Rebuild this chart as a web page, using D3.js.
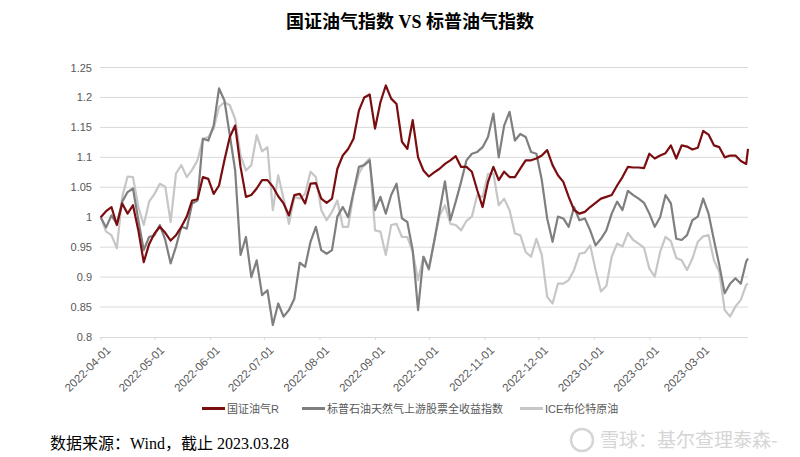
<!DOCTYPE html>
<html><head><meta charset="utf-8">
<script src="https://cdn.jsdelivr.net/npm/d3@7"></script>
<style>
html,body{margin:0;padding:0;background:#fff;}
svg{display:block;}
</style>
</head><body>
<svg id="chart" width="800" height="457"></svg>
<script>
const dates = [
"2022-04-01","2022-04-04","2022-04-07","2022-04-10","2022-04-13","2022-04-16","2022-04-19","2022-04-22","2022-04-25","2022-04-28",
"2022-05-01","2022-05-04","2022-05-07","2022-05-10","2022-05-13","2022-05-16","2022-05-19","2022-05-22","2022-05-25","2022-05-28","2022-05-31",
"2022-06-03","2022-06-06","2022-06-09","2022-06-12","2022-06-15","2022-06-18","2022-06-21","2022-06-24","2022-06-27","2022-06-30",
"2022-07-03","2022-07-06","2022-07-09","2022-07-12","2022-07-15","2022-07-18","2022-07-21","2022-07-24","2022-07-27","2022-07-30",
"2022-08-02","2022-08-05","2022-08-08","2022-08-11","2022-08-14","2022-08-17","2022-08-20","2022-08-23","2022-08-26","2022-08-29",
"2022-09-01","2022-09-04","2022-09-07","2022-09-10","2022-09-13","2022-09-16","2022-09-19","2022-09-22","2022-09-25","2022-09-28",
"2022-10-01","2022-10-04","2022-10-07","2022-10-10","2022-10-13","2022-10-16","2022-10-19","2022-10-22","2022-10-25","2022-10-28","2022-10-31",
"2022-11-03","2022-11-06","2022-11-09","2022-11-12","2022-11-15","2022-11-18","2022-11-21","2022-11-24","2022-11-27","2022-11-30",
"2022-12-03","2022-12-06","2022-12-09","2022-12-12","2022-12-15","2022-12-18","2022-12-21","2022-12-24","2022-12-27","2022-12-30",
"2023-01-02","2023-01-05","2023-01-08","2023-01-11","2023-01-14","2023-01-17","2023-01-20","2023-01-23","2023-01-26","2023-01-29",
"2023-02-01","2023-02-04","2023-02-07","2023-02-10","2023-02-13","2023-02-16","2023-02-19","2023-02-22","2023-02-25","2023-02-28",
"2023-03-03","2023-03-06","2023-03-09","2023-03-12","2023-03-15","2023-03-18","2023-03-21","2023-03-24","2023-03-27","2023-03-28"
];

const seriesNames = ["国证油气R", "标普石油天然气上游股票全收益指数", "ICE布伦特原油"];

const cnOilGas = [
1.000,1.010,1.017,0.987,1.023,1.006,1.020,0.978,0.925,0.955,0.973,0.984,0.974,0.961,0.970,0.984,1.001,1.028,1.030,1.067,1.064,1.039,1.053,1.095,1.134,1.153,1.084,1.034,1.037,1.048,1.062,1.062,
1.051,1.035,1.023,1.003,1.037,1.039,1.023,1.056,1.057,1.031,1.024,1.031,1.081,1.103,1.114,1.131,1.178,1.200,1.205,1.148,1.192,1.220,1.198,1.189,1.126,1.114,1.162,1.100,1.078,1.068,1.075,1.081,
1.089,1.095,1.102,1.084,1.084,1.076,1.045,1.017,1.059,1.084,1.062,1.076,1.067,1.067,1.081,1.095,1.095,1.098,1.103,1.112,1.087,1.070,1.059,1.034,1.012,1.006,1.009,1.017,1.024,1.031,1.034,
1.037,1.053,1.067,1.084,1.083,1.083,1.082,1.106,1.098,1.103,1.107,1.120,1.098,1.120,1.118,1.113,1.116,1.144,1.138,1.120,1.117,1.100,1.103,1.103,1.094,1.089,1.114
];

const spUpstream = [
1.000,0.983,1.003,0.989,1.026,1.042,1.048,0.995,0.945,0.967,0.970,0.987,0.962,0.923,0.951,0.984,0.981,1.023,1.028,1.131,1.128,1.153,1.215,1.195,1.137,1.078,0.937,0.967,0.900,0.928,0.870,0.878,
0.820,0.856,0.834,0.845,0.864,0.924,0.917,0.959,0.984,0.945,0.939,0.945,1.001,1.017,1.000,1.042,1.084,1.087,1.095,1.012,1.034,1.006,1.037,1.056,0.998,0.992,0.945,0.845,0.934,0.914,0.960,1.010,
1.060,0.995,1.026,1.059,1.095,1.106,1.109,1.117,1.134,1.173,1.100,1.153,1.176,1.128,1.139,1.134,1.109,1.106,1.062,0.998,0.959,1.001,0.998,0.984,1.017,0.995,0.998,0.978,0.953,0.964,0.978,
1.006,1.026,1.012,1.044,1.037,1.031,1.024,1.006,0.984,1.000,1.037,1.023,0.964,0.962,0.970,0.995,1.001,1.031,1.006,0.962,0.920,0.873,0.889,0.898,0.889,0.926,0.931
];

const brent = [
1.000,0.976,0.970,0.948,1.034,1.068,1.067,1.017,0.987,1.026,1.039,1.056,1.051,0.992,1.073,1.087,1.067,1.079,1.095,1.131,1.134,1.148,1.184,1.192,1.187,1.164,1.103,1.078,1.087,1.137,1.110,1.117,
1.012,1.070,1.031,0.989,1.034,1.031,1.039,1.076,1.067,1.012,0.995,1.009,1.028,0.984,0.984,1.039,1.073,1.089,1.098,0.978,0.976,0.937,0.987,0.989,0.967,0.967,0.942,0.895,0.934,0.912,0.960,1.003,
1.020,0.989,0.987,0.978,0.994,1.001,1.037,1.034,1.072,1.073,1.020,1.031,1.012,0.973,0.970,0.942,0.934,0.964,0.937,0.867,0.856,0.889,0.889,0.895,0.912,0.939,0.941,0.953,0.912,0.876,0.885,
0.934,0.956,0.951,0.974,0.962,0.956,0.949,0.914,0.901,0.942,0.967,0.960,0.932,0.928,0.912,0.931,0.959,0.968,0.970,0.928,0.909,0.845,0.834,0.851,0.862,0.887,0.889
];

const xTickLabels = ["2022-04-01","2022-05-01","2022-06-01","2022-07-01","2022-08-01","2022-09-01","2022-10-01","2022-11-01","2022-12-01","2023-01-01","2023-02-01","2023-03-01"];
const yTickValues = [0.8,0.85,0.9,0.95,1,1.05,1.1,1.15,1.2,1.25];
const yTickLabels = ["0.8","0.85","0.9","0.95","1","1.05","1.1","1.15","1.2","1.25"];

const titleText = "国证油气指数 VS 标普油气指数";
const sourceText = "数据来源：Wind，截止 2023.03.28";
const watermarkText = "雪球：基尔查理泰森-";

const colors = ["#7a0d10", "#7f7f7f", "#c6c6c6"];

const parse = d3.utcParse("%Y-%m-%d");
const svg = d3.select("#chart");
const sansFont = "'Liberation Sans', Arial, 'Noto Sans CJK SC', sans-serif";
const serifFont = "'Liberation Serif', 'Times New Roman', 'Noto Sans CJK SC', serif";

const x = d3.scaleUtc()
  .domain([parse("2022-04-01"), parse("2023-03-28")])
  .range([100.7, 748]);
const y = d3.scaleLinear().domain([0.8, 1.25]).range([337, 67.5]);

// gridlines
svg.append("g").selectAll("line").data(yTickValues.slice(1)).join("line")
  .attr("x1", 100).attr("x2", 748)
  .attr("y1", d => y(d)).attr("y2", d => y(d))
  .attr("stroke", "#d9d9d9").attr("stroke-width", 1);

// y axis labels
const yAxis = d3.axisLeft(y).tickValues(yTickValues)
  .tickFormat((d, i) => yTickLabels[i]).tickSize(0).tickPadding(8);
const gy = svg.append("g").attr("transform", "translate(100,0)").call(yAxis);
gy.select(".domain").remove();
gy.selectAll("text").attr("font-family", sansFont).attr("font-size", 11).attr("fill", "#595959");

// x axis
const xTicks = xTickLabels.map(parse);
const xAxis = d3.axisBottom(x).tickValues(xTicks)
  .tickFormat((d, i) => xTickLabels[i]).tickSize(3).tickSizeOuter(0);
const gx = svg.append("g").attr("transform", "translate(0,337)").call(xAxis);
gx.select(".domain").attr("stroke", "#d9d9d9").attr("d", "M100,0.5H748");
gx.selectAll(".tick line").attr("stroke", "#d9d9d9");
gx.selectAll("text")
  .attr("font-family", sansFont).attr("font-size", 11.5).attr("fill", "#595959")
  .attr("text-anchor", "end")
  .attr("dy", null).attr("y", 0)
  .attr("transform", "translate(10,14) rotate(-45)");

// lines
const data = [cnOilGas, spUpstream, brent];
const line = d3.line().x((d, i) => x(parse(dates[i]))).y(d => y(d));
const order = [2, 1, 0];
svg.append("g").selectAll("path").data(order).join("path")
  .attr("d", k => line(data[k]))
  .attr("fill", "none")
  .attr("stroke", k => colors[k])
  .attr("stroke-width", 2.2)
  .attr("stroke-linejoin", "round");

// legend
const legendItems = [
  {x: 202, k: 0},
  {x: 302, k: 1},
  {x: 520, k: 2}
];
const lg = svg.append("g");
legendItems.forEach(it => {
  lg.append("line").attr("x1", it.x).attr("x2", it.x + 23)
    .attr("y1", 408.5).attr("y2", 408.5)
    .attr("stroke", colors[it.k]).attr("stroke-width", 3);
  lg.append("text").attr("x", it.x + 25).attr("y", 412.5)
    .attr("font-family", sansFont).attr("font-size", 11).attr("fill", "#595959")
    .text(seriesNames[it.k]);
});

// title
svg.append("text").attr("x", 410).attr("y", 28)
  .attr("text-anchor", "middle")
  .attr("font-family", serifFont).attr("font-weight", "bold")
  .attr("font-size", 18).attr("fill", "#000")
  .text(titleText);

// source
svg.append("text").attr("x", 50).attr("y", 449)
  .attr("font-family", serifFont).attr("font-size", 16).attr("fill", "#000")
  .text(sourceText);

// watermark
const wm = svg.append("g");
wm.append("circle").attr("cx", 582).attr("cy", 440).attr("r", 11)
  .attr("fill", "none").attr("stroke", "#d5d5d5").attr("stroke-width", 2.5);
wm.append("text").attr("x", 600).attr("y", 447)
  .attr("font-family", "'Noto Sans CJK SC', sans-serif").attr("font-size", 19)
  .attr("fill", "#d5d5d5")
  .text(watermarkText);
</script>
</body></html>
